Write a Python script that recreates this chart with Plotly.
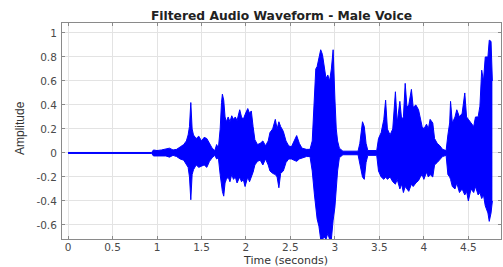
import plotly.graph_objects as go

# Envelope of the filtered waveform (time in s, upper / lower peak amplitude)
t_env = [0.00, 0.40, 0.44, 0.47, 0.50, 0.94, 0.96, 1.00, 1.05, 1.10, 1.14, 1.18, 1.22, 1.26, 1.30,
         1.33, 1.35, 1.365, 1.38, 1.395, 1.41, 1.44, 1.47, 1.50, 1.53, 1.56, 1.59, 1.62, 1.65, 1.67,
         1.69, 1.71, 1.725, 1.735, 1.75, 1.765, 1.78, 1.80, 1.82, 1.84, 1.86, 1.88, 1.90, 1.93, 1.95,
         1.97, 1.99, 2.02, 2.04, 2.06, 2.08, 2.10, 2.13, 2.16, 2.19, 2.22, 2.25, 2.27, 2.30, 2.33,
         2.35, 2.37, 2.39, 2.42, 2.45, 2.48, 2.51, 2.54, 2.57, 2.60, 2.63, 2.68, 2.72, 2.745, 2.77,
         2.785, 2.80, 2.82, 2.84, 2.86, 2.88, 2.90, 2.92, 2.94, 2.96, 2.98, 3.00, 3.015, 3.03, 3.05,
         3.09, 3.26, 3.28, 3.30, 3.31, 3.33, 3.35, 3.37, 3.47, 3.49, 3.52, 3.55, 3.57, 3.59, 3.62,
         3.65, 3.68, 3.70, 3.73, 3.75, 3.77, 3.79, 3.81, 3.83, 3.86, 3.88, 3.91, 3.94, 3.96, 3.98,
         4.00, 4.03, 4.05, 4.07, 4.10, 4.12, 4.15, 4.18, 4.21, 4.25, 4.27, 4.29, 4.30, 4.32, 4.35,
         4.37, 4.40, 4.43, 4.46, 4.48, 4.50, 4.53, 4.56, 4.58, 4.61, 4.63, 4.65, 4.67, 4.69, 4.72,
         4.735, 4.755, 4.77]
upper = [0.004, 0.004, 0.010, 0.010, 0.004, 0.004, 0.025, 0.02, 0.025, 0.03, 0.04, 0.025, 0.03, 0.05, 0.07,
         0.10, 0.15, 0.22, 0.42, 0.20, 0.15, 0.12, 0.14, 0.10, 0.13, 0.12, 0.08, 0.04, 0.02, 0.07,
         0.04, 0.20, 0.42, 0.49, 0.44, 0.30, 0.26, 0.30, 0.26, 0.31, 0.28, 0.30, 0.27, 0.36, 0.30,
         0.28, 0.32, 0.37, 0.33, 0.35, 0.22, 0.11, 0.07, 0.08, 0.10, 0.06, 0.10, 0.17, 0.20, 0.28,
         0.20, 0.26, 0.22, 0.18, 0.10, 0.06, 0.05, 0.10, 0.145, 0.08, 0.04, 0.03, 0.03, 0.10, 0.55,
         0.70, 0.72, 0.78, 0.86, 0.82, 0.70, 0.62, 0.65, 0.60, 0.70, 0.86, 0.45, 0.20, 0.10, 0.04,
         0.015, 0.015, 0.08, 0.20, 0.26, 0.22, 0.08, 0.02, 0.02, 0.12, 0.17, 0.28, 0.44, 0.20, 0.15,
         0.20, 0.51, 0.25, 0.43, 0.28, 0.30, 0.58, 0.38, 0.40, 0.53, 0.38, 0.40, 0.36, 0.28, 0.22,
         0.20, 0.24, 0.20, 0.28, 0.25, 0.12, 0.08, 0.06, 0.03, 0.02, 0.15, 0.25, 0.43, 0.25, 0.30,
         0.36, 0.30, 0.33, 0.50, 0.30, 0.28, 0.25, 0.22, 0.30, 0.30, 0.39, 0.69, 0.60, 0.80, 0.80,
         0.94, 0.93, 0.60]
lower = [-0.004, -0.004, -0.010, -0.010, -0.004, -0.004, -0.025, -0.025, -0.02, -0.025, -0.035, -0.02, -0.03, -0.05, -0.06,
         -0.09, -0.12, -0.20, -0.39, -0.18, -0.14, -0.10, -0.12, -0.11, -0.10, -0.12, -0.07, -0.04, -0.02, -0.05,
         -0.04, -0.18, -0.30, -0.32, -0.36, -0.25, -0.22, -0.20, -0.24, -0.18, -0.22, -0.20, -0.25, -0.20, -0.24,
         -0.22, -0.28, -0.20, -0.24, -0.20, -0.16, -0.10, -0.07, -0.06, -0.10, -0.05, -0.10, -0.15, -0.17, -0.18,
         -0.20, -0.29, -0.17, -0.15, -0.08, -0.05, -0.05, -0.06, -0.07, -0.05, -0.04, -0.03, -0.03, -0.15, -0.35,
         -0.45, -0.55, -0.61, -0.72, -0.72, -0.70, -0.72, -0.67, -0.72, -0.72, -0.56, -0.45, -0.30, -0.15, -0.04,
         -0.015, -0.015, -0.10, -0.18, -0.20, -0.22, -0.08, -0.02, -0.02, -0.15, -0.20, -0.22, -0.20, -0.22, -0.20,
         -0.24, -0.26, -0.22, -0.30, -0.26, -0.33, -0.28, -0.30, -0.32, -0.26, -0.28, -0.25, -0.23, -0.20, -0.18,
         -0.22, -0.16, -0.20, -0.18, -0.20, -0.10, -0.08, -0.05, -0.03, -0.02, -0.18, -0.20, -0.22, -0.28, -0.30,
         -0.25, -0.33, -0.30, -0.35, -0.32, -0.40, -0.30, -0.33, -0.28, -0.35, -0.33, -0.38, -0.35, -0.44, -0.50,
         -0.57, -0.50, -0.40]

x_ticks = [0, 0.5, 1, 1.5, 2, 2.5, 3, 3.5, 4, 4.5]
x_labels = ["0", "0.5", "1", "1.5", "2", "2.5", "3", "3.5", "4", "4.5"]
y_ticks = [-0.6, -0.4, -0.2, 0, 0.2, 0.4, 0.6, 0.8, 1]
y_labels = ["-0.6", "-0.4", "-0.2", "0", "0.2", "0.4", "0.6", "0.8", "1"]

wave_color = "#0000ff"

fig = go.Figure()
fig.add_trace(go.Scatter(x=t_env, y=upper, mode="lines",
                         line=dict(color=wave_color, width=1), showlegend=False, hoverinfo="skip"))
fig.add_trace(go.Scatter(x=t_env, y=lower, mode="lines", fill="tonexty", fillcolor=wave_color,
                         line=dict(color=wave_color, width=1), showlegend=False, hoverinfo="skip"))

axis_common = dict(showline=True, linecolor="#8a8a8a", linewidth=1, mirror="ticks",
                   ticks="inside", ticklen=3, tickcolor="#8a8a8a",
                   showgrid=True, gridcolor="#e3e3e3", gridwidth=1, zeroline=False,
                   tickfont=dict(family="DejaVu Sans", size=10.5, color="#4a4a4a"))

fig.update_xaxes(range=[-0.068, 4.867], tickvals=x_ticks, ticktext=x_labels,
                 ticklabelstandoff=-2, **axis_common)
fig.update_yaxes(range=[-0.717, 1.083], tickvals=y_ticks, ticktext=y_labels,
                 ticklabelstandoff=2, **axis_common)

plot_w, plot_h = 439, 216
fig.update_layout(
    width=503, height=267,
    margin=dict(l=62, r=2, t=23, b=28, autoexpand=False),
    paper_bgcolor="white", plot_bgcolor="white",
    title=dict(text="<b>Filtered Audio Waveform - Male Voice</b>",
               font=dict(family="DejaVu Sans", size=12.3, color="#222222"),
               x=(62 + plot_w / 2) / 503, xanchor="center", y=1 - 16 / 267, yanchor="middle"),
    annotations=[
        dict(text="Time (seconds)", xref="paper", yref="paper", x=(285 - 62) / plot_w, y=-(260 - 239) / plot_h,
             xanchor="center", yanchor="middle", showarrow=False, borderpad=0,
             font=dict(family="DejaVu Sans", size=11, color="#333333")),
        dict(text="Amplitude", xref="paper", yref="paper", x=(20 - 62) / plot_w, y=(239 - 128) / plot_h,
             xanchor="center", yanchor="middle", textangle=-90, showarrow=False,
             font=dict(family="Liberation Sans Narrow, Liberation Sans", size=12, color="#333333")),
    ],
)

fig.write_html("out.html", config={"displayModeBar": False},
               post_script="document.body.style.margin='0';document.body.style.padding='0';")
